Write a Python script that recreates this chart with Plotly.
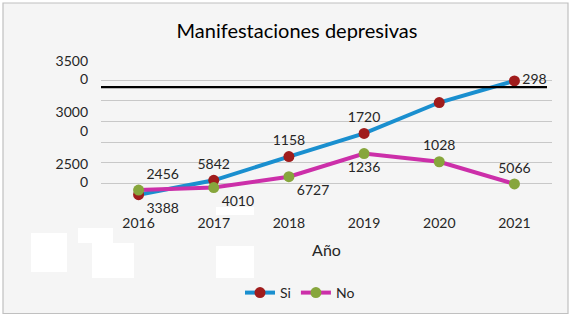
import plotly.graph_objects as go

# ---- data ----
years = ["2016", "2017", "2018", "2019", "2020", "2021"]
si_values = [22900, 24300, 26600, 28850, 31850, 33950]
no_values = [23350, 23600, 24650, 26900, 26100, 23950]
si_labels = ["3388", "5842", "1158", "1720", "", "298"]
no_labels = ["2456", "4010", "6727", "1236", "1028", "5066"]
grid_values = [22000, 24000, 26000, 28000, 30000, 32000, 34000]
label_values = [25000, 30000, 35000]
label_texts = ["2500<br>0", "3000<br>0", "3500<br>0"]
y_range = [22000, 35200]
ref_line_value = 33350

# ---- layout geometry (pixels) ----
W, H = 572, 318
L, R, T, B = 101, 552, 68, 204


def px(x):
    return (x - L) / (R - L)


def py(y):
    return (B - y) / (B - T)


FONT = "Lato"
TXT = "#262626"

fig = go.Figure()
fig.add_trace(go.Scatter(
    x=years, y=si_values, name="Si", mode="lines+markers+text",
    line=dict(color="#1a8fcf", width=4),
    marker=dict(color="#a01c1c", size=11),
    text=si_labels,
    textposition=["bottom right", "top center", "top center", "top center", "top center", "middle right"],
    textfont=dict(family=FONT, size=14, color=TXT),
    cliponaxis=False, yaxis="y",
))
fig.add_trace(go.Scatter(
    x=years, y=no_values, name="No", mode="lines+markers+text",
    line=dict(color="#cc2fa9", width=4),
    marker=dict(color="#87a63c", size=11),
    text=no_labels,
    textposition=["top right", "bottom right", "bottom right", "bottom center", "top center", "top center"],
    textfont=dict(family=FONT, size=14, color=TXT),
    cliponaxis=False, yaxis="y2",
))

shapes = [
    # chart frame
    dict(type="rect", xref="paper", yref="paper", layer="below",
         x0=px(3), x1=px(568), y0=py(313.5), y1=py(3),
         fillcolor="#f5f5f5", line=dict(color="#c0c0c0", width=1.2)),
    # thick black line
    dict(type="line", xref="paper", yref="y", layer="above",
         x0=0, x1=px(547), y0=ref_line_value, y1=ref_line_value,
         line=dict(color="black", width=2.2)),
]
for (x0, y0, x1, y1) in [(31, 233, 67, 272), (78, 228, 113, 243), (92, 243, 134, 278),
                         (216, 246, 254, 278), (216, 207, 254, 215)]:
    shapes.append(dict(type="rect", xref="paper", yref="paper", layer="above",
                       x0=px(x0), x1=px(x1), y0=py(y1), y1=py(y0),
                       fillcolor="white", line=dict(width=0)))

fig.update_layout(
    width=W, height=H,
    margin=dict(l=L, r=W - R, t=T, b=H - B, pad=0, autoexpand=False),
    paper_bgcolor="white", plot_bgcolor="rgba(0,0,0,0)",
    font=dict(family=FONT, size=14, color=TXT),
    title=dict(text="Manifestaciones depresivas", x=297 / W, xanchor="center",
               y=1 - 31 / H, yanchor="middle", automargin=False,
               font=dict(family=FONT, size=20, color="black")),
    showlegend=True,
    legend=dict(orientation="h", x=px(300), xanchor="center", y=py(293), yanchor="middle",
                bgcolor="rgba(0,0,0,0)", font=dict(family=FONT, size=14, color=TXT),
                itemwidth=30, traceorder="normal"),
    xaxis=dict(type="category", categoryorder="array", categoryarray=years,
               range=[-0.5, 5.5], showgrid=False, zeroline=False, showline=False,
               ticks="", ticklabelstandoff=9, automargin=False,
               tickfont=dict(family=FONT, size=14, color=TXT),
               title=dict(text="Año", standoff=14, font=dict(family=FONT, size=16, color=TXT))),
    yaxis=dict(range=y_range, tickmode="array", tickvals=grid_values, showticklabels=False,
               automargin=False,
               showgrid=True, gridcolor="#c8c8c8", gridwidth=1, zeroline=False, showline=False),
    yaxis2=dict(range=y_range, overlaying="y", side="left", tickmode="array",
                tickvals=label_values, ticktext=label_texts, showgrid=False, zeroline=False,
                showline=False, ticklabelstandoff=12, automargin=False,
                tickfont=dict(family=FONT, size=14, color=TXT)),
    shapes=shapes,
)

fig.write_html("out.html", config={"displayModeBar": False},
               post_script="document.body.style.margin='0';")
